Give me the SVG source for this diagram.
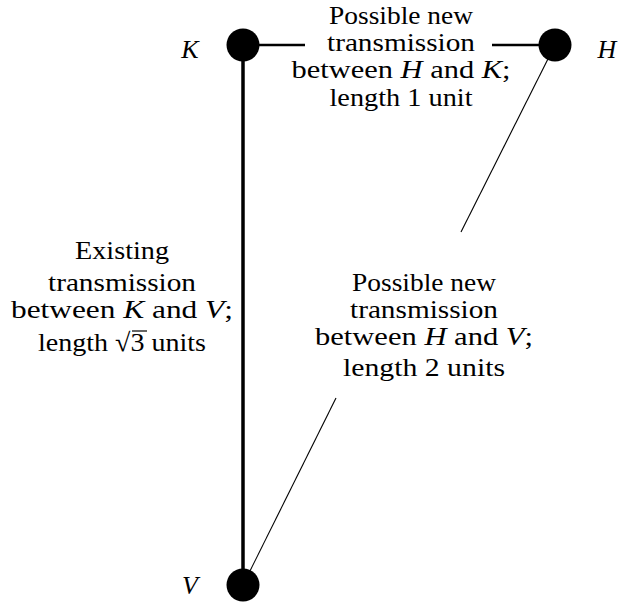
<svg xmlns="http://www.w3.org/2000/svg" width="620" height="607" viewBox="0 0 620 607">
<style>
.t{font-family:"Liberation Serif","Times New Roman",serif;font-size:26px;fill:#000;text-anchor:middle}
.i{font-style:italic}
.node{fill:#000}
</style>
<rect width="620" height="607" fill="#fff"/>
<g id="connectors" stroke="#000" fill="none">
<line id="K-V" x1="243" y1="45" x2="243" y2="585" stroke-width="3.5"/>
<line id="K-H-a" x1="243" y1="45" x2="305" y2="45" stroke-width="2.5"/>
<line id="K-H-b" x1="492" y1="45" x2="555" y2="45" stroke-width="2.5"/>
<line id="H-V-a" x1="555" y1="45" x2="461" y2="232" stroke-width="1.1"/>
<line id="H-V-b" x1="243" y1="585" x2="336" y2="398" stroke-width="1.1"/>
</g>
<g id="K"><circle class="node" cx="243" cy="45" r="16.5"/><text class="t i" x="190" y="58">K</text></g>
<g id="H"><circle class="node" cx="555" cy="45" r="16.5"/><text class="t i" x="607" y="58">H</text></g>
<g id="V"><circle class="node" cx="243" cy="585" r="16.5"/><text class="t i" x="190" y="594">V</text></g>
<g id="label-HK">
<text class="t" x="401" y="24" textLength="144" lengthAdjust="spacingAndGlyphs">Possible new</text>
<text class="t" x="401" y="51" textLength="148" lengthAdjust="spacingAndGlyphs">transmission</text>
<text class="t" x="401" y="78" textLength="219" lengthAdjust="spacingAndGlyphs">between <tspan class="i">H</tspan> and <tspan class="i">K</tspan>;</text>
<text class="t" x="401" y="106" textLength="143" lengthAdjust="spacingAndGlyphs">length 1 unit</text>
</g>
<g id="label-KV">
<text class="t" x="122" y="259" textLength="94" lengthAdjust="spacingAndGlyphs">Existing</text>
<text class="t" x="122" y="291" textLength="148" lengthAdjust="spacingAndGlyphs">transmission</text>
<text class="t" x="122" y="318" textLength="222" lengthAdjust="spacingAndGlyphs">between <tspan class="i">K</tspan> and <tspan class="i">V</tspan>;</text>
<text class="t" x="122" y="351" textLength="168" lengthAdjust="spacingAndGlyphs">length √3 units</text>
<line x1="132" y1="331" x2="147" y2="331" stroke="#000" stroke-width="1.2"/>
</g>
<g id="label-HV">
<text class="t" x="424" y="291" textLength="144" lengthAdjust="spacingAndGlyphs">Possible new</text>
<text class="t" x="424" y="318" textLength="148" lengthAdjust="spacingAndGlyphs">transmission</text>
<text class="t" x="424" y="345" textLength="218" lengthAdjust="spacingAndGlyphs">between <tspan class="i">H</tspan> and <tspan class="i">V</tspan>;</text>
<text class="t" x="424" y="376" textLength="162" lengthAdjust="spacingAndGlyphs">length 2 units</text>
</g>
</svg>
